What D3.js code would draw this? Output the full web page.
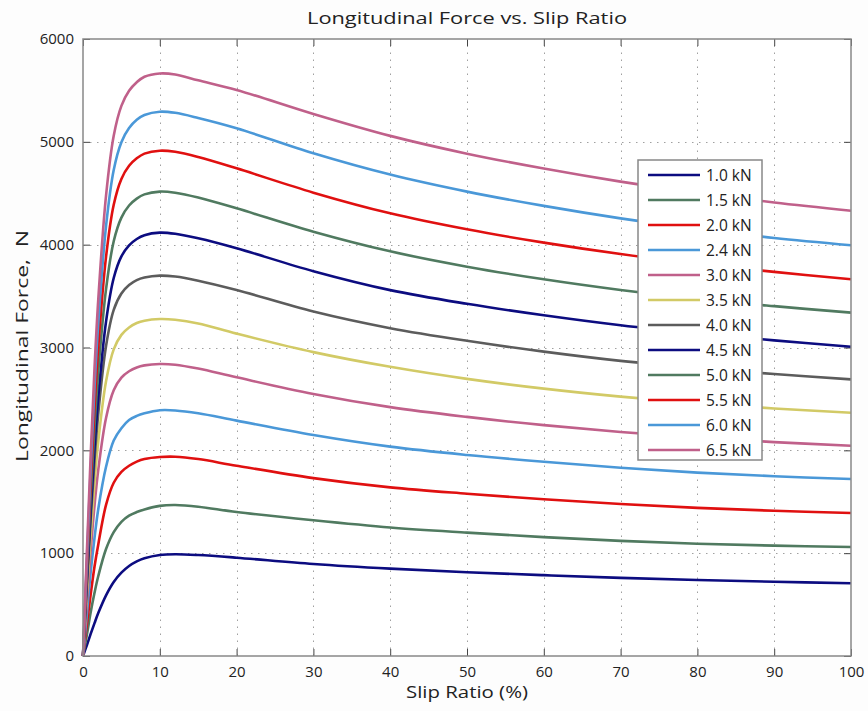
<!DOCTYPE html>
<html>
<head>
<meta charset="utf-8">
<script src="https://cdn.jsdelivr.net/npm/d3@7"></script>
<style>
  html, body { margin: 0; padding: 0; background: #fdfdfd; }
  svg { display: block; }
  text { font-family: "Open Sans", "Liberation Sans", sans-serif; fill: #222; }
</style>
</head>
<body>
<svg id="chart" width="868" height="711"></svg>
<script>
// Slip ratio sample points (%)
const slip = [0, 0.5, 1, 1.5, 2, 3, 4, 5, 6, 7, 8, 10, 12, 15, 20, 30, 40, 50, 60, 70, 80, 90, 100];

// Vertical load labels
const loads = ["1.0 kN", "1.5 kN", "2.0 kN", "2.4 kN", "3.0 kN", "3.5 kN",
               "4.0 kN", "4.5 kN", "5.0 kN", "5.5 kN", "6.0 kN", "6.5 kN"];

// Longitudinal force (N) at each slip sample, one array per load
const f10 = [0, 105, 215, 320, 420, 590, 720, 810, 875, 920, 950, 982, 990, 982, 956, 895, 850, 815, 786, 760, 739, 722, 707];
const f15 = [0, 205, 425, 615, 780, 1040, 1205, 1305, 1365, 1400, 1425, 1460, 1468, 1452, 1400, 1320, 1250, 1200, 1156, 1120, 1092, 1073, 1060];
const f20 = [0, 310, 600, 870, 1090, 1470, 1685, 1790, 1850, 1890, 1915, 1935, 1938, 1915, 1850, 1730, 1640, 1578, 1524, 1478, 1440, 1412, 1391];
const f24 = [0, 405, 815, 1150, 1435, 1840, 2095, 2215, 2295, 2335, 2360, 2390, 2388, 2360, 2289, 2149, 2036, 1955, 1889, 1831, 1783, 1748, 1721];
const f30 = [0, 525, 1022, 1463, 1818, 2315, 2584, 2707, 2769, 2806, 2826, 2840, 2833, 2795, 2710, 2548, 2420, 2325, 2245, 2178, 2124, 2080, 2045];
const f35 = [0, 606, 1180, 1688, 2097, 2671, 2982, 3123, 3195, 3238, 3261, 3277, 3270, 3234, 3135, 2955, 2812, 2695, 2600, 2522, 2458, 2407, 2366];
const f40 = [0, 684, 1332, 1905, 2367, 3015, 3366, 3525, 3607, 3655, 3680, 3699, 3690, 3650, 3559, 3350, 3188, 3065, 2960, 2870, 2800, 2742, 2690];
const f45 = [0, 725, 1416, 2034, 2528, 3252, 3676, 3886, 3993, 4055, 4092, 4117, 4106, 4062, 3965, 3742, 3558, 3425, 3313, 3216, 3137, 3069, 3008];
const f50 = [0, 795, 1553, 2231, 2773, 3568, 4033, 4263, 4381, 4448, 4489, 4516, 4505, 4458, 4353, 4126, 3935, 3786, 3663, 3559, 3472, 3402, 3339];
const f55 = [0, 865, 1690, 2428, 3017, 3882, 4388, 4639, 4767, 4840, 4885, 4914, 4903, 4852, 4742, 4506, 4305, 4149, 4020, 3909, 3815, 3735, 3663];
const f60 = [0, 932, 1821, 2615, 3250, 4181, 4727, 4997, 5134, 5214, 5261, 5293, 5282, 5232, 5132, 4889, 4682, 4516, 4377, 4256, 4152, 4065, 3994];
const f65 = [0, 1000, 1950, 2800, 3480, 4477, 5060, 5350, 5497, 5580, 5633, 5665, 5655, 5598, 5505, 5271, 5058, 4885, 4740, 4613, 4505, 4410, 4330];

const forces = [f10, f15, f20, f24, f30, f35, f40, f45, f50, f55, f60, f65];
const colors = ["#0c0c80", "#507a60", "#e01010", "#4a98d8", "#c0608a", "#d2ca66",
                "#5c5c5c", "#0c0c80", "#507a60", "#e01010", "#4a98d8", "#c0608a"];

const xTicks = [0, 10, 20, 30, 40, 50, 60, 70, 80, 90, 100];
const yTicks = [0, 1000, 2000, 3000, 4000, 5000, 6000];

const margin = { left: 83, right: 17, top: 39, bottom: 55 };
const W = 868, H = 711;
const svg = d3.select("#chart");

const x = d3.scaleLinear().domain([0, 100]).range([margin.left, W - margin.right]);
const y = d3.scaleLinear().domain([0, 6000]).range([H - margin.bottom, margin.top]);

// plot background
svg.append("rect")
  .attr("x", x(0)).attr("y", y(6000))
  .attr("width", x(100) - x(0)).attr("height", y(0) - y(6000))
  .attr("fill", "#ffffff");

// dotted grid
const grid = svg.append("g").attr("stroke", "#a0a0a0").attr("stroke-width", 1)
  .attr("stroke-dasharray", "1.5,5.5");
grid.selectAll(".gx").data(xTicks.slice(1, -1)).join("line")
  .attr("x1", d => Math.round(x(d)) + 0.5).attr("x2", d => Math.round(x(d)) + 0.5)
  .attr("y1", y(0)).attr("y2", y(6000));
grid.selectAll(".gy").data(yTicks.slice(1, -1)).join("line")
  .attr("y1", d => Math.round(y(d)) + 0.5).attr("y2", d => Math.round(y(d)) + 0.5)
  .attr("x1", x(0)).attr("x2", x(100));

// axes with inward ticks
const axisStyle = g => {
  g.select(".domain").remove();
  g.selectAll(".tick line").attr("stroke", "#444");
  g.selectAll(".tick text").attr("font-size", 15).attr("fill", "#222");
};
svg.append("g").attr("transform", `translate(0,${y(0)})`)
  .call(d3.axisBottom(x).tickValues(xTicks).tickFormat(d3.format("d")).tickSizeInner(-7).tickSizeOuter(0).tickPadding(10))
  .call(axisStyle);
svg.append("g").attr("transform", `translate(0,${y(6000)})`)
  .call(d3.axisTop(x).tickValues(xTicks).tickFormat("").tickSizeInner(-7).tickSizeOuter(0))
  .call(axisStyle);
svg.append("g").attr("transform", `translate(${x(0)},0)`)
  .call(d3.axisLeft(y).tickValues(yTicks).tickFormat(d3.format("d")).tickSizeInner(-7).tickSizeOuter(0).tickPadding(9))
  .call(axisStyle);
svg.append("g").attr("transform", `translate(${x(100)},0)`)
  .call(d3.axisRight(y).tickValues(yTicks).tickFormat("").tickSizeInner(-7).tickSizeOuter(0))
  .call(axisStyle);

// curves
const line = d3.line()
  .x((d, i) => x(slip[i]))
  .y(d => y(d))
  .curve(d3.curveCatmullRom.alpha(0.5));
svg.append("g").selectAll("path").data(forces).join("path")
  .attr("d", d => line(d))
  .attr("fill", "none")
  .attr("stroke", (d, i) => colors[i])
  .attr("stroke-width", 2.6)
  .attr("stroke-linejoin", "round");

// plot frame
svg.append("rect")
  .attr("x", x(0)).attr("y", y(6000))
  .attr("width", x(100) - x(0)).attr("height", y(0) - y(6000))
  .attr("fill", "none").attr("stroke", "#888").attr("stroke-width", 1.5);

// legend
const lg = svg.append("g").attr("transform", "translate(638,160)");
lg.append("rect").attr("width", 124).attr("height", 300)
  .attr("fill", "#fff").attr("stroke", "#888").attr("stroke-width", 1.5);
const items = lg.selectAll(".item").data(loads).join("g")
  .attr("transform", (d, i) => `translate(0,${15 + i * 25})`);
items.append("line").attr("x1", 10).attr("x2", 62).attr("y1", 0).attr("y2", 0)
  .attr("stroke", (d, i) => colors[i]).attr("stroke-width", 2.6);
items.append("text").attr("x", 68).attr("y", 5.5).attr("font-size", 15.5).text(d => d);

// titles
svg.append("text").attr("x", 467).attr("y", 24).attr("text-anchor", "middle")
  .attr("font-size", 17).attr("textLength", 320).attr("lengthAdjust", "spacingAndGlyphs")
  .text("Longitudinal Force vs. Slip Ratio");
svg.append("text").attr("x", 467).attr("y", 698).attr("text-anchor", "middle")
  .attr("font-size", 17).attr("textLength", 122).attr("lengthAdjust", "spacingAndGlyphs")
  .text("Slip Ratio (%)");
svg.append("text").attr("transform", "translate(28,346) rotate(-90)")
  .attr("text-anchor", "middle").attr("font-size", 17).attr("xml:space", "preserve")
  .attr("textLength", 232).attr("lengthAdjust", "spacingAndGlyphs")
  .text("Longitudinal Force,  N");
</script>
</body>
</html>
